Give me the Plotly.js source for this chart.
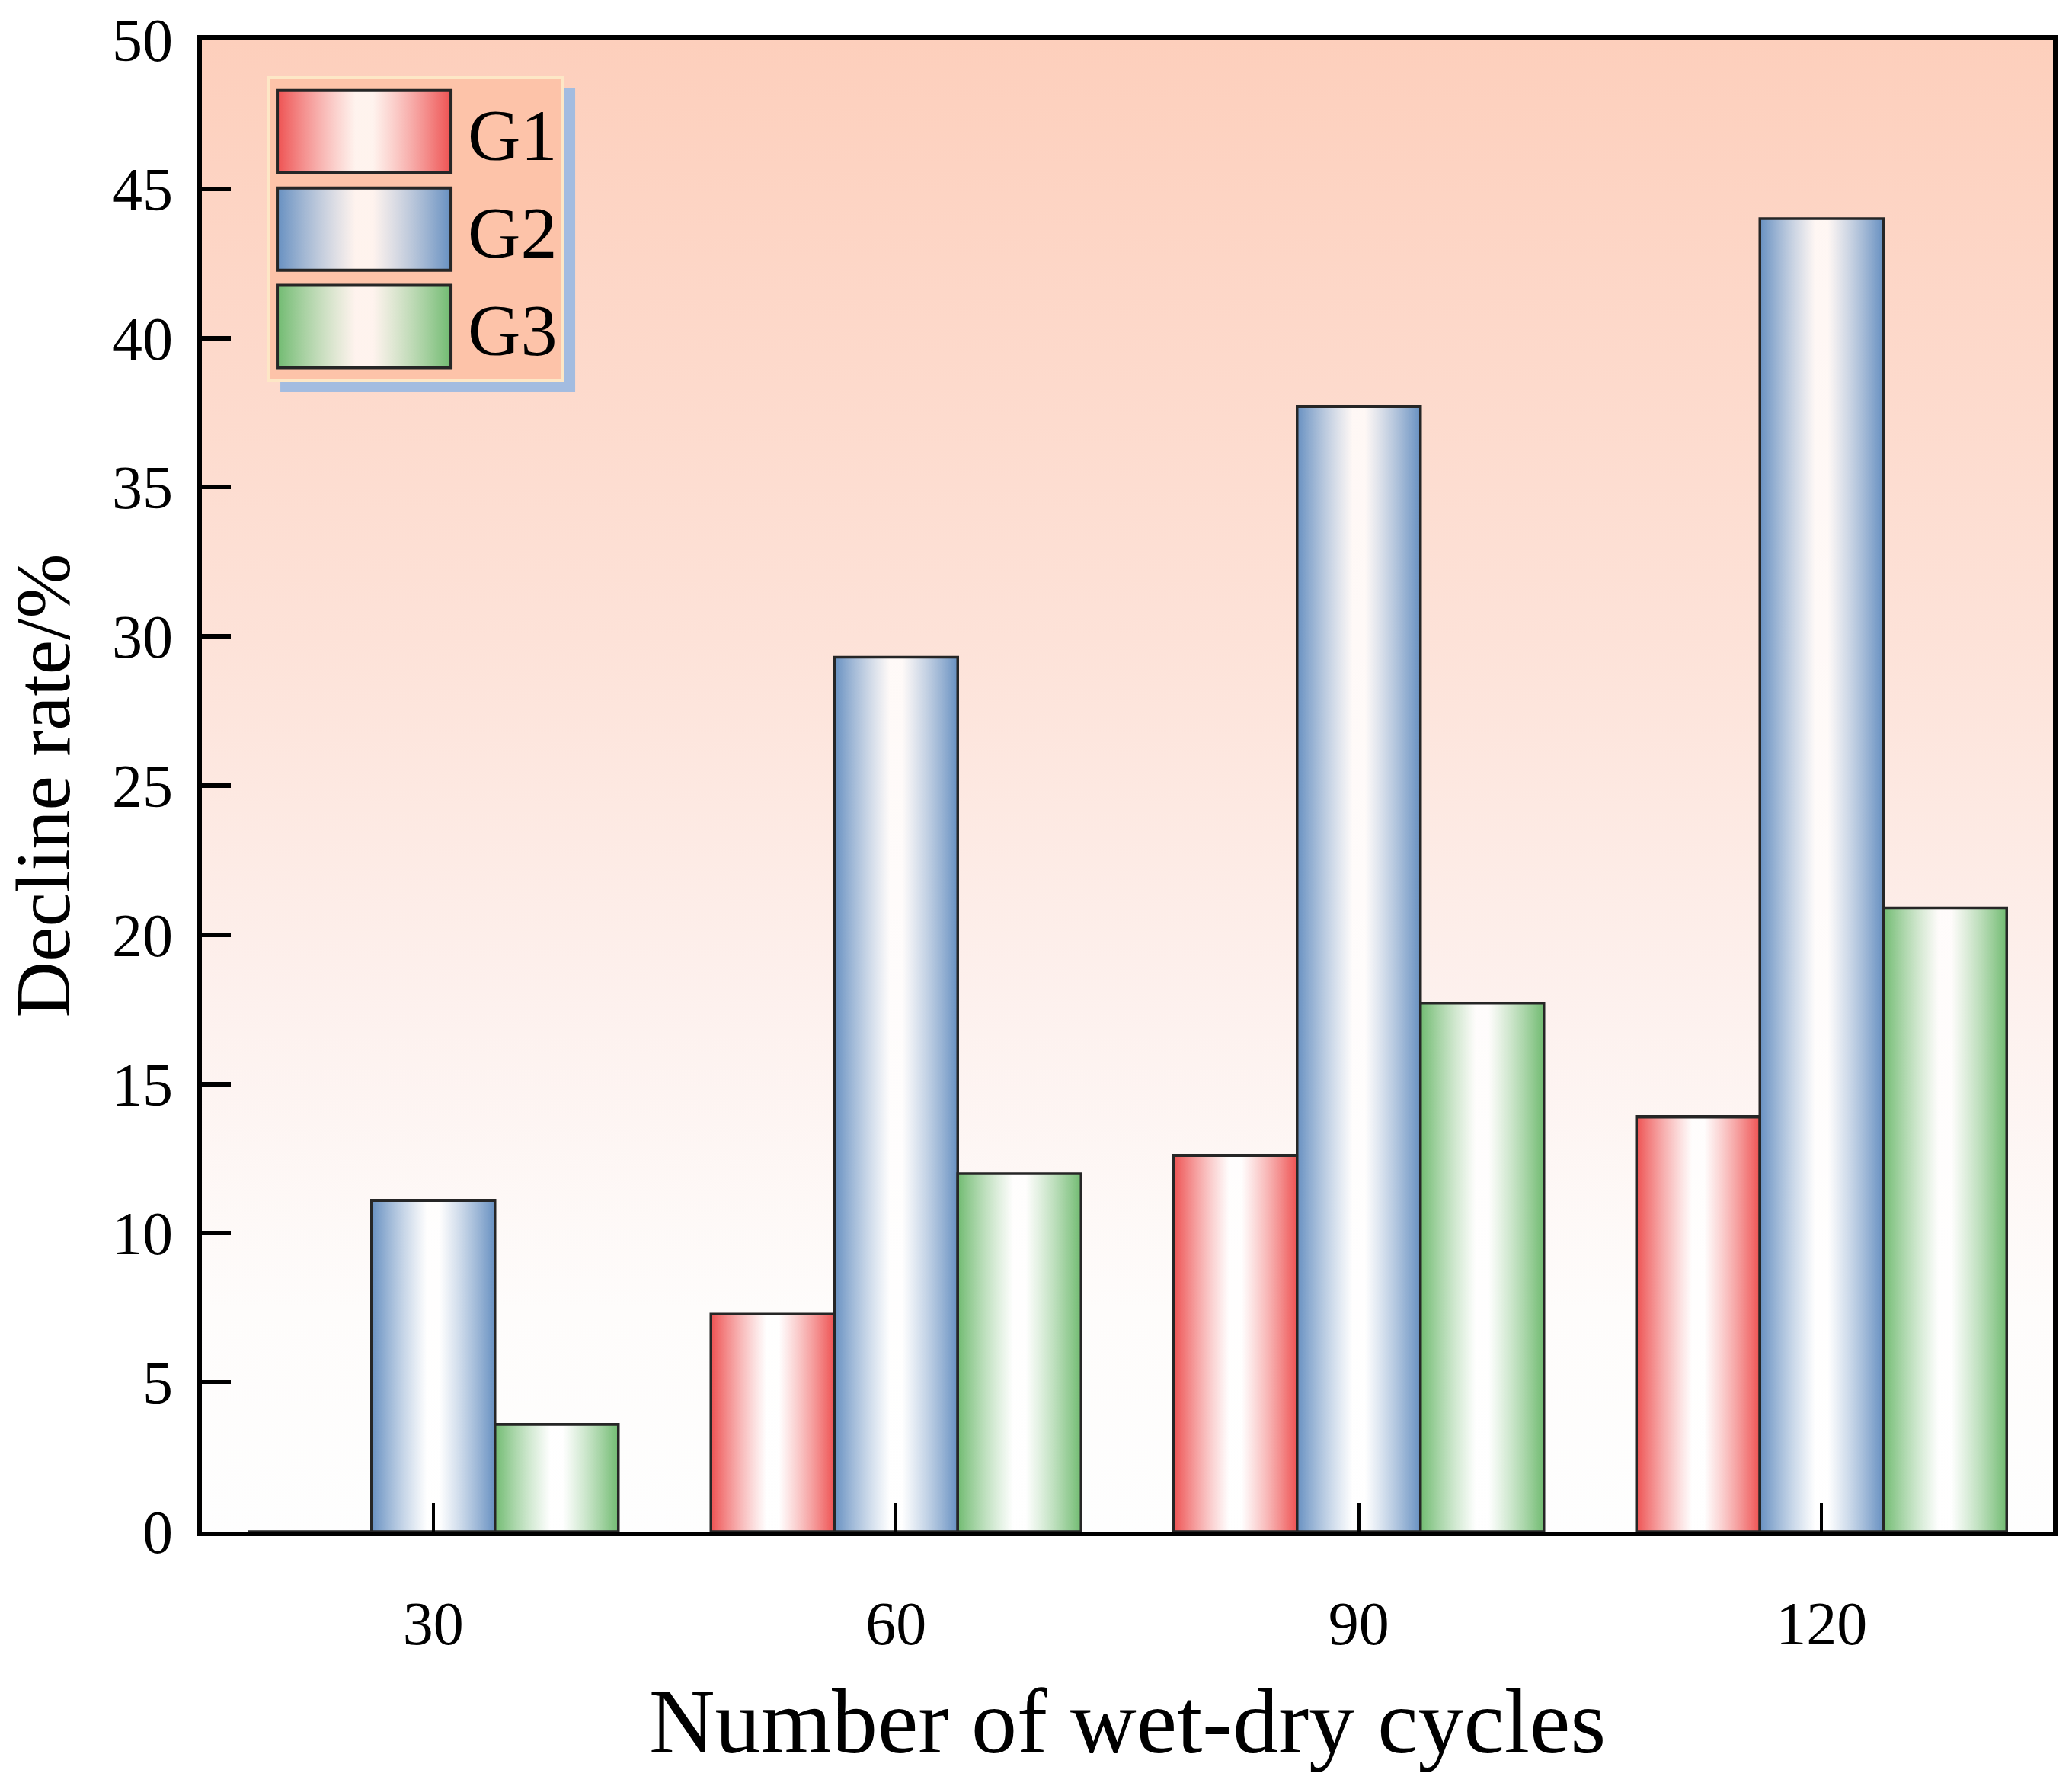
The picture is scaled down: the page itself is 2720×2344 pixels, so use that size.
<!DOCTYPE html>
<html>
<head>
<meta charset="utf-8">
<script src="https://cdn.plot.ly/plotly-3.0.1.min.js"></script>
<style>
html,body{margin:0;padding:0;background:#ffffff;}
#chart{width:2720px;height:2344px;}
</style>
</head>
<body>
<div id="chart"></div>
<script>
// ---- data ----
const categories = ['30', '60', '90', '120'];
const seriesNames = ['G1', 'G2', 'G3'];
const g1Values = [0, 7.3, 12.6, 13.9];
const g2Values = [11.1, 29.3, 37.7, 44.0];
const g3Values = [3.6, 12.0, 17.7, 20.9];
const yTickValues = [0, 5, 10, 15, 20, 25, 30, 35, 40, 45, 50];
const xTitle = 'Number of wet-dry cycles';
const yTitle = 'Decline rate/%';

// ---- styles ----
const FONT = '"Liberation Serif", "Times New Roman", Times, serif';
const edgeColors = ['#ee5252', '#6790c1', '#71bb71'];
const seriesValues = [g1Values, g2Values, g3Values];

const traces = seriesNames.map((name, i) => ({
  type: 'bar',
  name: name,
  x: categories,
  y: seriesValues[i],
  marker: { color: edgeColors[i], line: { color: '#262626', width: 3.5 } },
  hoverinfo: 'x+y+name'
}));

const axisCommon = {
  showline: true, linecolor: '#000000', linewidth: 6, mirror: true,
  ticks: 'inside', ticklen: 38, tickcolor: '#000000',
  showgrid: false, zeroline: false,
  tickfont: { family: FONT, size: 80, color: '#000000' }
};

const layout = {
  width: 2720, height: 2344,
  margin: { l: 265, r: 25, t: 52, b: 334, pad: 0 },
  paper_bgcolor: '#ffffff',
  plot_bgcolor: '#fde6dc',
  barmode: 'group', bargap: 0.2, bargroupgap: 0,
  showlegend: true,
  legend: {
    x: 0.035, y: 0.9755, xanchor: 'left', yanchor: 'top',
    bgcolor: '#fdc3a9', bordercolor: '#fde7c6', borderwidth: 4,
    font: { family: FONT, size: 96, color: '#000000' },
    itemwidth: 250, tracegroupgap: 0
  },
  xaxis: Object.assign({}, axisCommon, {
    type: 'category', categoryorder: 'array', categoryarray: categories,
    tickwidth: 4, ticklabelstandoff: 46,
    title: { text: xTitle, font: { family: FONT, size: 120, color: '#000000' }, standoff: 44 }
  }),
  yaxis: Object.assign({}, axisCommon, {
    range: [0, 50], tickmode: 'array', tickvals: yTickValues,
    tickwidth: 6, ticklabelstandoff: 16,
    title: { text: yTitle, font: { family: FONT, size: 102, color: '#000000' }, standoff: 26 }
  })
};

const NS = 'http://www.w3.org/2000/svg';
function makeGrad(defs, id, stops, vertical) {
  let g = document.getElementById(id);
  if (g) g.remove();
  g = document.createElementNS(NS, 'linearGradient');
  g.setAttribute('id', id);
  g.setAttribute('x1', '0'); g.setAttribute('y1', '0');
  g.setAttribute('x2', vertical ? '0' : '1'); g.setAttribute('y2', vertical ? '1' : '0');
  stops.forEach(s => {
    const st = document.createElementNS(NS, 'stop');
    st.setAttribute('offset', s[0]);
    st.setAttribute('stop-color', s[1]);
    st.setAttribute('stop-opacity', s[2] === undefined ? 1 : s[2]);
    g.appendChild(st);
  });
  defs.appendChild(g);
}

function decorate(gd) {
  const svg = gd.querySelector('svg.main-svg');
  let defs = svg.querySelector('defs');
  if (!defs) { defs = document.createElementNS(NS, 'defs'); svg.insertBefore(defs, svg.firstChild); }

  // background gradient
  makeGrad(defs, 'bgGrad', [[0, '#fdcfbc'], [0.4, '#fde2d8'], [0.65, '#fdf1ee'], [0.85, '#fefcfb'], [1, '#fefefe']], true);
  gd.querySelectorAll('.bglayer rect.bg').forEach(r => r.style.setProperty('fill', 'url(#bgGrad)'));

  // bar gradients
  seriesNames.forEach((n, i) => {
    makeGrad(defs, 'barGrad' + i, [[0, edgeColors[i]], [0.45, '#ffffff', 0.8], [0.55, '#ffffff', 0.8], [1, edgeColors[i]]], false);
  });
  gd.querySelectorAll('.barlayer g.trace').forEach((t, i) => {
    t.querySelectorAll('path').forEach(p => p.style.setProperty('fill', 'url(#barGrad' + i + ')'));
  });

  // legend symbols: wide gradient boxes
  const items = gd.querySelectorAll('.legend g.traces');
  items.forEach((item, i) => {
    const text = item.querySelector('text.legendtext');
    const path = item.querySelector('.legendpoints path');
    if (!text || !path) return;
    const inv = item.getCTM().inverse();
    const tM = inv.multiply(text.getCTM());
    const tb = text.getBBox();
    const textLeft = tb.x + tM.e;
    const pM = inv.multiply(path.getCTM());
    const x0 = 10 - pM.e, x1 = textLeft - 22 - pM.e;
    const h = 108;
    path.setAttribute('d', `M${x0},${-h / 2}H${x1}V${h / 2}H${x0}Z`);
    path.style.setProperty('fill', 'url(#barGrad' + i + ')');
    path.style.setProperty('stroke', '#262626');
    path.style.setProperty('stroke-width', '4px');
  });

  // legend shadow
  const lg = gd.querySelector('g.legend');
  if (lg) {
    const bg = lg.querySelector('rect.bg');
    const old = lg.querySelector('rect.legshadow');
    if (old) old.remove();
    if (bg) {
      const sh = document.createElementNS(NS, 'rect');
      sh.setAttribute('class', 'legshadow');
      const bx = parseFloat(bg.getAttribute('x')) || 0, by = parseFloat(bg.getAttribute('y')) || 0;
      sh.setAttribute('x', bx + 16); sh.setAttribute('y', by + 14);
      sh.setAttribute('width', bg.getAttribute('width'));
      sh.setAttribute('height', bg.getAttribute('height'));
      sh.setAttribute('fill', '#a3bce0');
      lg.insertBefore(sh, bg);
    }
  }
}

Plotly.newPlot('chart', traces, layout, { displayModeBar: false, responsive: false, staticPlot: true })
  .then(gd => decorate(gd));
</script>
</body>
</html>
